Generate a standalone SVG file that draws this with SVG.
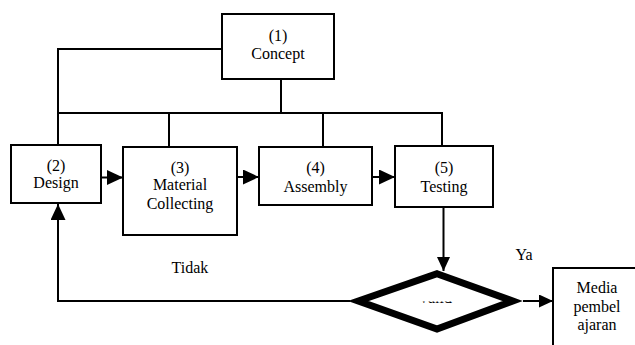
<svg xmlns="http://www.w3.org/2000/svg" width="635" height="345" viewBox="0 0 635 345">
<defs>
<style>
.box{fill:#fff;stroke:#000;stroke-width:2}
.ln{fill:none;stroke:#000;stroke-width:2}
.t{font-size:16px;fill:#000;text-anchor:middle}
</style>
<marker id="ah" markerWidth="16" markerHeight="15" refX="16" refY="7.5" orient="auto" markerUnits="userSpaceOnUse" viewBox="0 0 16 15">
<path d="M0,0 L16,7.5 L0,15 Z" fill="#000"/>
</marker>
<marker id="ahS" markerWidth="14" markerHeight="13" refX="14" refY="6.5" orient="auto" markerUnits="userSpaceOnUse" viewBox="0 0 14 13">
<path d="M0,0 L14,6.5 L0,13 Z" fill="#000"/>
</marker>
<clipPath id="vclip"><rect x="410" y="301.6" width="50" height="1.8"/></clipPath>
</defs>
<rect width="635" height="345" fill="#fff"/>
<g id="connectors">
<polyline class="ln" points="222,49 58,49 58,145"/>
<line class="ln" x1="281" y1="79" x2="281" y2="113"/>
<line class="ln" x1="57" y1="113" x2="443" y2="113"/>
<line class="ln" x1="169" y1="113" x2="169" y2="147"/>
<line class="ln" x1="323" y1="113" x2="323" y2="147"/>
<line class="ln" x1="442" y1="113" x2="442" y2="146"/>
<line class="ln" x1="101" y1="177.5" x2="123" y2="177.5" marker-end="url(#ah)"/>
<line class="ln" x1="237" y1="177" x2="259" y2="177" marker-end="url(#ah)"/>
<line class="ln" x1="372" y1="177" x2="395" y2="177" marker-end="url(#ah)"/>
<line class="ln" x1="443.5" y1="207" x2="443.5" y2="271" marker-end="url(#ahS)"/>
<polyline class="ln" points="350,301 58,301 58,204" marker-end="url(#ah)"/>
<line class="ln" x1="523" y1="301" x2="553" y2="301" marker-end="url(#ahS)"/>
</g>
<g font-family="Liberation Serif, Times New Roman, DejaVu Serif, serif">
<g id="concept">
<rect class="box" x="222" y="14" width="112" height="65"/>
<text class="t" x="278" y="41">(1)</text>
<text class="t" x="278" y="59">Concept</text>
</g>
<g id="design">
<rect class="box" x="11" y="145" width="90" height="58"/>
<text class="t" x="56" y="171">(2)</text>
<text class="t" x="56" y="188">Design</text>
</g>
<g id="material">
<rect class="box" x="123" y="147" width="114" height="88"/>
<text class="t" x="180" y="173">(3)</text>
<text class="t" x="180" y="190">Material</text>
<text class="t" x="180" y="209">Collecting</text>
</g>
<g id="assembly">
<rect class="box" x="259" y="147" width="113" height="58"/>
<text class="t" x="315.5" y="173">(4)</text>
<text class="t" x="315.5" y="191.5">Assembly</text>
</g>
<g id="testing">
<rect class="box" x="395" y="146" width="98" height="61"/>
<text class="t" x="444" y="173">(5)</text>
<text class="t" x="444" y="191.5">Testing</text>
</g>
<g id="decision">
<polygon points="437,273.7 512.6,301 437,329 358.4,301" fill="#fff" stroke="#000" stroke-width="7" stroke-linejoin="miter" stroke-miterlimit="4"/>
<text class="t" x="435" y="303.4" fill="#555" clip-path="url(#vclip)">Valid</text>
</g>
<g id="media">
<polyline class="ln" points="553,345 553,268 635,268"/>
<text class="t" x="597" y="293">Media</text>
<text class="t" x="597" y="312">pembel</text>
<text class="t" x="597" y="330">ajaran</text>
</g>
<g id="labels">
<text class="t" x="190" y="273">Tidak</text>
<text class="t" x="524" y="260">Ya</text>
</g>
</g>
</svg>
